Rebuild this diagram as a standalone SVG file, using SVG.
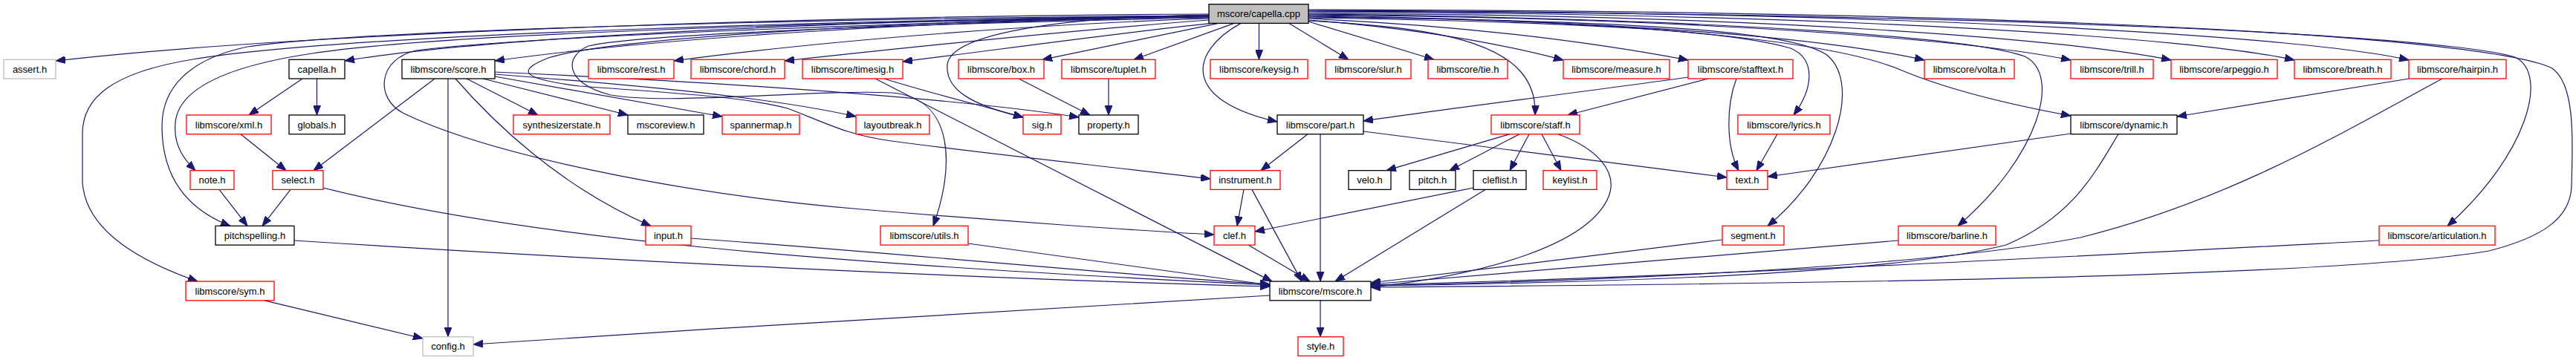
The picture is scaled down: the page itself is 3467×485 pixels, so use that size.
<svg xmlns="http://www.w3.org/2000/svg" width="3467" height="485" viewBox="0 0 3467 485">
<style>
.node rect{fill:#fff;stroke-width:1.3}
.red rect{stroke:#ff0000}
.blk rect{stroke:#000}
.gry rect{stroke:#bfbfbf}
.root rect{fill:#bfbfbf;stroke:#000}
text{font-family:"Liberation Sans",Arial,sans-serif;font-size:13px;fill:#000;text-anchor:middle}
.e path{fill:none;stroke:#191970;stroke-width:1.2;marker-end:url(#ah)}
</style>
<defs>
<marker id="ah" viewBox="0 0 13 10" markerWidth="13" markerHeight="10" markerUnits="userSpaceOnUse" refX="13" refY="5" orient="auto">
<path d="M0,0 L13,5 L0,10 Z" fill="#191970" stroke="#191970" stroke-width="1"/>
</marker>
</defs>
<rect width="3467" height="485" fill="#fff"/>
<g class="e" id="edges">
<path d="M1627,19 C1150,21 420,42 75,82"/>
<path d="M1627,21 C1250,24 680,46 464,82"/>
<path d="M1627,23 C1250,27 880,52 666,82"/>
<path d="M1627,25 C1380,33 1100,56 907,82"/>
<path d="M1627,27 C1450,40 1240,62 1056,82"/>
<path d="M1630,31.4 C1500,45 1350,66 1215,83"/>
<path d="M1640,31.4 L1403,80.3"/>
<path d="M1661,31.4 L1526,80.3"/>
<path d="M1694.5,31.4 L1694.5,80.3"/>
<path d="M1735,31.4 L1815,80.3"/>
<path d="M1761,29 L1930,80.3"/>
<path d="M1761,27 C1900,38 2010,56 2104,81"/>
<path d="M1761,25 C1980,35 2150,58 2272,81"/>
<path d="M1761,22 C2200,28 2460,52 2590,81"/>
<path d="M1761,20 C2300,24 2660,55 2787,81"/>
<path d="M1761,18 C2400,20 2800,55 2922,81"/>
<path d="M1761,16 C2500,18 2960,52 3088,81"/>
<path d="M1761,14 C2600,16 3110,50 3242,81"/>
<path d="M1670,31.4 C1600,70 1590,135 1719,164"/>
<path d="M1761,28 C1950,38 2070,60 2066,155"/>
<path d="M1761,24 C2150,30 2330,42 2410,65 C2445,80 2440,120 2414,155"/>
<path d="M1761,23 C2250,28 2420,45 2460,75 C2505,115 2470,230 2379,304.4"/>
<path d="M1761,21 C2250,28 2480,60 2560,95 C2620,120 2700,140 2787,156"/>
<path d="M1761,19 C2350,26 2660,52 2725,76 C2775,100 2745,210 2635,304.4"/>
<path d="M1761,15 C2750,18 3300,50 3385,77 C3432,100 3400,210 3294,304.4"/>
<path d="M1761,13 C2850,15 3360,55 3435,92 C3468,115 3462,200 3461,250 C3460,295 3420,320 3350,338 C3150,372 2500,382 1845,387"/>
<path d="M1627,20 C1450,22 1280,42 1275,87 C1272,122 1310,142 1377,158"/>
<path d="M1627,24 C1300,30 860,45 792,62 C760,75 758,112 822,128 C900,142 1100,120 1200,125 C1285,132 1285,225 1256,304.4"/>
<path d="M1627,22 C1200,30 700,50 560,68 C508,80 505,132 542,152 C650,205 900,260 1160,282 C1350,298 1550,312 1634,316"/>
<path d="M1627,21 C1200,28 820,52 738,78 C695,95 700,106 780,116 C900,125 1000,130 1060,146 C1110,165 1140,182 1200,190 C1350,210 1500,225 1629,241"/>
<path d="M1627,23 C1200,27 600,44 420,72 C300,90 240,122 236,165 C233,196 248,215 263,229.7"/>
<path d="M1627,21 C1200,24 500,38 333,63 C252,80 218,120 218,170 C218,240 252,282 310,304.4"/>
<path d="M1627,22 C1200,26 480,44 259,80 C150,98 111,132 111,180 L111,245 C114,300 168,345 266,379.1"/>
<path d="M407,106 L335,155"/>
<path d="M426.5,106 L426.5,155"/>
<path d="M324,180.7 L385,229.7"/>
<path d="M585,106 L422,229.7"/>
<path d="M603,106 L603,453.8"/>
<path d="M613,106 C660,160 750,250 876,304.4"/>
<path d="M628,106 L724,155"/>
<path d="M650,106 L845,155"/>
<path d="M666,103 L972,157"/>
<path d="M666,100 C900,118 1050,134 1152,157"/>
<path d="M666,97 C1000,112 1300,134 1452,158"/>
<path d="M295,255.4 L333,304.4"/>
<path d="M391,255.4 L353,304.4"/>
<path d="M435,253 C700,320 1100,355 1709,384"/>
<path d="M396,324 C800,350 1300,375 1709,386"/>
<path d="M356,404.8 L569,456"/>
<path d="M930,321 C1200,340 1500,370 1709,383"/>
<path d="M1303,328 L1709,384"/>
<path d="M1190,106 C1250,125 1320,142 1377,158"/>
<path d="M1178,106 L1712,379.1"/>
<path d="M1371,106 L1467,155"/>
<path d="M1492,106 L1492,155"/>
<path d="M1760,180.7 L1697,229.7"/>
<path d="M1777,180.7 L1777,379.1"/>
<path d="M1835,177 L2324,239"/>
<path d="M1674,255.4 L1665,304.4"/>
<path d="M1685,255.4 L1752,379.1"/>
<path d="M1680,330.1 L1763,379.1"/>
<path d="M1983,253 C1850,280 1750,300 1689,312"/>
<path d="M1999,255.4 L1797,379.1"/>
<path d="M2032,180.7 L1866,229.7"/>
<path d="M2045,180.7 L1951,229.7"/>
<path d="M2058,180.7 L2032,229.7"/>
<path d="M2075,180.7 L2101,229.7"/>
<path d="M2097,180.7 C2150,200 2178,232 2165,265 C2138,330 2000,370 1845,387"/>
<path d="M2272,104 C2100,128 1950,146 1835,163"/>
<path d="M2299,106 L2110,155"/>
<path d="M2337,106 C2324,140 2322,195 2340,229.7"/>
<path d="M2392,180.7 L2364,229.7"/>
<path d="M2787,180 L2379,238"/>
<path d="M2851,180.7 C2820,232 2790,292 2700,330 C2550,368 2200,380 1845,385"/>
<path d="M3242,106 L2930,157"/>
<path d="M3287,106 C3150,180 3000,270 2800,320 C2600,358 2200,377 1845,385"/>
<path d="M2318,323 L1845,381"/>
<path d="M2555,324 C2300,345 2050,365 1845,383"/>
<path d="M3202,324 C2800,345 2300,372 1845,384"/>
<path d="M1709,398 C1400,415 1000,440 637,464"/>
<path d="M1777,404.8 L1777,453.8"/>
</g>
<g id="node-root" class="node root"><rect x="1627" y="5.7" width="134" height="25.7"/><text x="1694" y="23.2">mscore/capella.cpp</text></g>
<g id="node-assert" class="node gry"><rect x="5" y="80.3" width="70" height="25.7"/><text x="40" y="97.8">assert.h</text></g>
<g id="node-capella-h" class="node blk"><rect x="389" y="80.3" width="75" height="25.7"/><text x="426.5" y="97.8">capella.h</text></g>
<g id="node-score" class="node blk"><rect x="541" y="80.3" width="125" height="25.7"/><text x="603.5" y="97.8">libmscore/score.h</text></g>
<g id="node-rest" class="node red"><rect x="792" y="80.3" width="115" height="25.7"/><text x="849.5" y="97.8">libmscore/rest.h</text></g>
<g id="node-chord" class="node red"><rect x="930" y="80.3" width="126" height="25.7"/><text x="993" y="97.8">libmscore/chord.h</text></g>
<g id="node-timesig" class="node red"><rect x="1080" y="80.3" width="135" height="25.7"/><text x="1147.5" y="97.8">libmscore/timesig.h</text></g>
<g id="node-box" class="node red"><rect x="1290" y="80.3" width="115" height="25.7"/><text x="1347.5" y="97.8">libmscore/box.h</text></g>
<g id="node-tuplet" class="node red"><rect x="1429" y="80.3" width="126" height="25.7"/><text x="1492" y="97.8">libmscore/tuplet.h</text></g>
<g id="node-keysig" class="node red"><rect x="1629" y="80.3" width="131" height="25.7"/><text x="1694.5" y="97.8">libmscore/keysig.h</text></g>
<g id="node-slur" class="node red"><rect x="1784" y="80.3" width="115" height="25.7"/><text x="1841.5" y="97.8">libmscore/slur.h</text></g>
<g id="node-tie" class="node red"><rect x="1922" y="80.3" width="107" height="25.7"/><text x="1975.5" y="97.8">libmscore/tie.h</text></g>
<g id="node-measure" class="node red"><rect x="2104" y="80.3" width="143" height="25.7"/><text x="2175.5" y="97.8">libmscore/measure.h</text></g>
<g id="node-stafftext" class="node red"><rect x="2272" y="80.3" width="141" height="25.7"/><text x="2342.5" y="97.8">libmscore/stafftext.h</text></g>
<g id="node-volta" class="node red"><rect x="2590" y="80.3" width="121" height="25.7"/><text x="2650.5" y="97.8">libmscore/volta.h</text></g>
<g id="node-trill" class="node red"><rect x="2787" y="80.3" width="111" height="25.7"/><text x="2842.5" y="97.8">libmscore/trill.h</text></g>
<g id="node-arpeggio" class="node red"><rect x="2922" y="80.3" width="143" height="25.7"/><text x="2993.5" y="97.8">libmscore/arpeggio.h</text></g>
<g id="node-breath" class="node red"><rect x="3088" y="80.3" width="130" height="25.7"/><text x="3153" y="97.8">libmscore/breath.h</text></g>
<g id="node-hairpin" class="node red"><rect x="3242" y="80.3" width="131" height="25.7"/><text x="3307.5" y="97.8">libmscore/hairpin.h</text></g>
<g id="node-xml" class="node red"><rect x="251" y="155" width="114" height="25.7"/><text x="308" y="172.5">libmscore/xml.h</text></g>
<g id="node-globals" class="node blk"><rect x="389" y="155" width="75" height="25.7"/><text x="426.5" y="172.5">globals.h</text></g>
<g id="node-synth" class="node red"><rect x="691" y="155" width="130" height="25.7"/><text x="756" y="172.5">synthesizerstate.h</text></g>
<g id="node-mscoreview" class="node blk"><rect x="845" y="155" width="102" height="25.7"/><text x="896" y="172.5">mscoreview.h</text></g>
<g id="node-spannermap" class="node red"><rect x="972" y="155" width="104" height="25.7"/><text x="1024" y="172.5">spannermap.h</text></g>
<g id="node-layoutbreak" class="node red"><rect x="1152" y="155" width="99" height="25.7"/><text x="1201.5" y="172.5">layoutbreak.h</text></g>
<g id="node-sig" class="node red"><rect x="1377" y="155" width="51" height="25.7"/><text x="1402.5" y="172.5">sig.h</text></g>
<g id="node-property" class="node blk"><rect x="1452" y="155" width="80" height="25.7"/><text x="1492" y="172.5">property.h</text></g>
<g id="node-part" class="node blk"><rect x="1719" y="155" width="116" height="25.7"/><text x="1777" y="172.5">libmscore/part.h</text></g>
<g id="node-staff" class="node red"><rect x="2007" y="155" width="119" height="25.7"/><text x="2066.5" y="172.5">libmscore/staff.h</text></g>
<g id="node-lyrics" class="node red"><rect x="2339" y="155" width="124" height="25.7"/><text x="2401" y="172.5">libmscore/lyrics.h</text></g>
<g id="node-dynamic" class="node blk"><rect x="2787" y="155" width="143" height="25.7"/><text x="2858.5" y="172.5">libmscore/dynamic.h</text></g>
<g id="node-note" class="node red"><rect x="256" y="229.7" width="59" height="25.7"/><text x="285.5" y="247.2">note.h</text></g>
<g id="node-select" class="node red"><rect x="367" y="229.7" width="68" height="25.7"/><text x="401" y="247.2">select.h</text></g>
<g id="node-instrument" class="node red"><rect x="1629" y="229.7" width="94" height="25.7"/><text x="1676" y="247.2">instrument.h</text></g>
<g id="node-velo" class="node blk"><rect x="1815" y="229.7" width="57" height="25.7"/><text x="1843.5" y="247.2">velo.h</text></g>
<g id="node-pitch" class="node blk"><rect x="1897" y="229.7" width="62" height="25.7"/><text x="1928" y="247.2">pitch.h</text></g>
<g id="node-cleflist" class="node blk"><rect x="1983" y="229.7" width="71" height="25.7"/><text x="2018.5" y="247.2">cleflist.h</text></g>
<g id="node-keylist" class="node red"><rect x="2077" y="229.7" width="72" height="25.7"/><text x="2113" y="247.2">keylist.h</text></g>
<g id="node-text" class="node red"><rect x="2324" y="229.7" width="55" height="25.7"/><text x="2351.5" y="247.2">text.h</text></g>
<g id="node-pitchspelling" class="node blk"><rect x="290" y="304.4" width="106" height="25.7"/><text x="343" y="321.9">pitchspelling.h</text></g>
<g id="node-input" class="node red"><rect x="869" y="304.4" width="61" height="25.7"/><text x="899.5" y="321.9">input.h</text></g>
<g id="node-utils" class="node red"><rect x="1185" y="304.4" width="118" height="25.7"/><text x="1244" y="321.9">libmscore/utils.h</text></g>
<g id="node-clef" class="node red"><rect x="1634" y="304.4" width="55" height="25.7"/><text x="1661.5" y="321.9">clef.h</text></g>
<g id="node-segment" class="node red"><rect x="2318" y="304.4" width="83" height="25.7"/><text x="2359.5" y="321.9">segment.h</text></g>
<g id="node-barline" class="node red"><rect x="2555" y="304.4" width="131" height="25.7"/><text x="2620.5" y="321.9">libmscore/barline.h</text></g>
<g id="node-articulation" class="node red"><rect x="3202" y="304.4" width="156" height="25.7"/><text x="3280" y="321.9">libmscore/articulation.h</text></g>
<g id="node-sym" class="node red"><rect x="250" y="379.1" width="119" height="25.7"/><text x="309.5" y="396.6">libmscore/sym.h</text></g>
<g id="node-mscore" class="node blk"><rect x="1709" y="379.1" width="136" height="25.7"/><text x="1777" y="396.6">libmscore/mscore.h</text></g>
<g id="node-config" class="node gry"><rect x="569" y="453.8" width="68" height="25.7"/><text x="603" y="471.3">config.h</text></g>
<g id="node-style" class="node red"><rect x="1747" y="453.8" width="61" height="25.7"/><text x="1777.5" y="471.3">style.h</text></g>
</svg>
